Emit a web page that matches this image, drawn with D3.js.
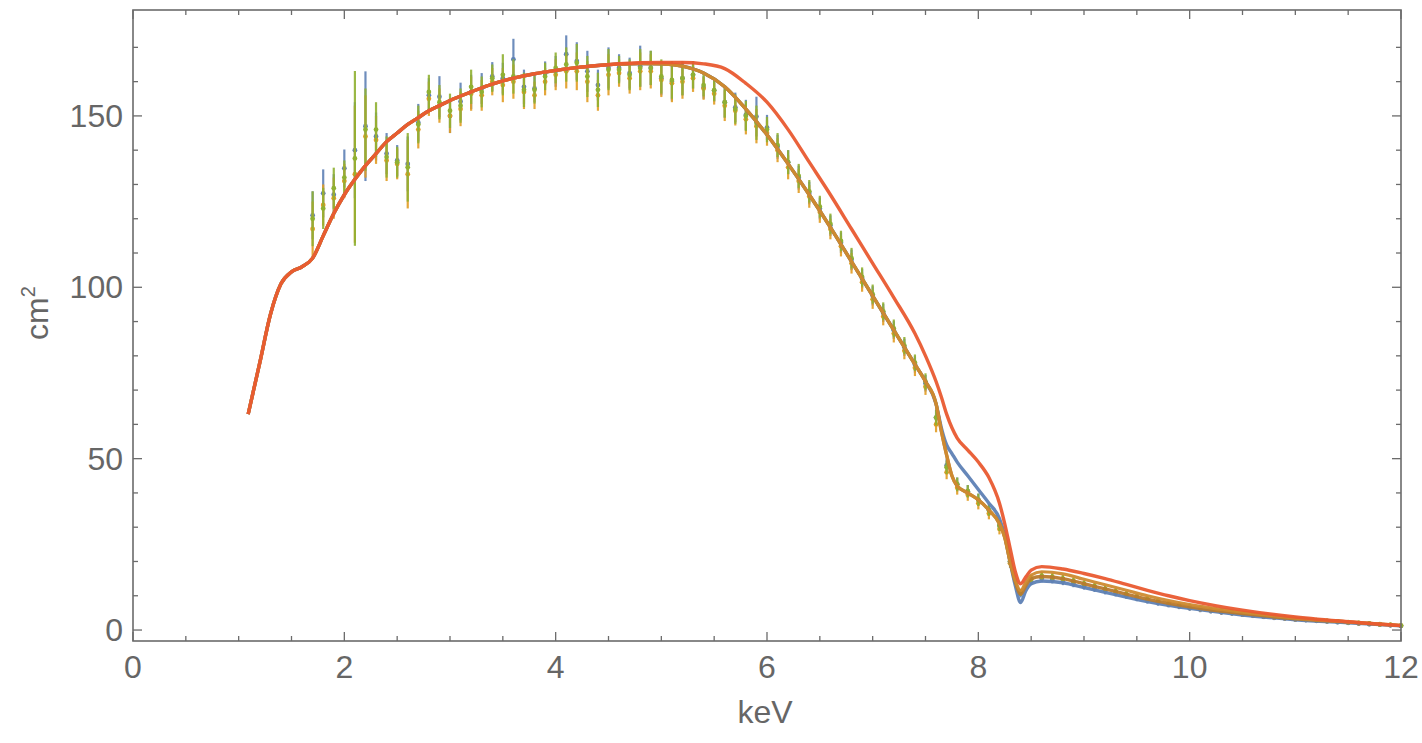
<!DOCTYPE html>
<html>
<head>
<meta charset="utf-8">
<script src="https://cdn.jsdelivr.net/npm/d3@7"></script>
<style>
  html, body { margin: 0; padding: 0; background: #fff; }
  svg { display: block; }
  text { font-family: "Liberation Sans", Arial, sans-serif; }
</style>
</head>
<body>
<svg id="chart" width="1422" height="743"></svg>
<script>
// ---------------- DATA ----------------
const energies = [1.7,1.8,1.9,2.0,2.1,2.2,2.3,2.4,2.5,2.6,2.7,2.8,2.9,3.0,3.1,3.2,3.3,3.4,3.5,3.6,3.7,3.8,3.9,4.0,4.1,4.2,4.3,4.4,4.5,4.6,4.7,4.8,4.9,5.0,5.1,5.2,5.3,5.4,5.5,5.6,5.7,5.8,5.9,6.0,6.1,6.2,6.3,6.4,6.5,6.6,6.7,6.8,6.9,7.0,7.1,7.2,7.3,7.4,7.5,7.6,7.7,7.8,7.9,8.0,8.1,8.2,8.3,8.4,8.5,8.6,8.7,8.8,8.9,9.0,9.1,9.2,9.3,9.4,9.5,9.6,9.7,9.8,9.9,10.0,10.1,10.2,10.3,10.4,10.5,10.6,10.7,10.8,10.9,11.0,11.1,11.2,11.3,11.4,11.5,11.6,11.7,11.8,11.9,12.0];

const dataBlue = [121,127.4,127,134.7,140,147,144,139,137,136,148,156,155.6,150,154.2,157,158,161.5,161,166.5,158.5,158,162.4,163,168,166,163,159,164,164,162.5,164.5,164,161,160,161,162,158.3,157.4,154,152.5,150.3,149.8,146.6,141,136.5,132,127.5,123,118,113,108,102.5,97.5,92.5,87.5,82.5,77.5,72,62,48,42.5,40.5,38,35,30.5,20,10.5,14.2,15,14.7,14.2,13.5,12.8,12.1,11.4,10.7,10,9.3,8.6,8,7.4,6.9,6.4,6,5.6,5.2,4.9,4.5,4.2,3.9,3.6,3.4,3.1,2.9,2.7,2.5,2.3,2.1,1.9,1.7,1.6,1.4,1.2];
const errBlue  = [7,7,6,5.5,14,16,7,6,4.5,8,5.5,5,6,5,5.5,5,4.5,4.2,4.5,6,5,4,3.5,4.5,5.5,5.5,6,4.5,6,4,4.5,6,5,5,5.5,5,4,3.3,3.2,4.5,4.3,4.4,5.8,3.7,3.5,3.5,3.5,3.3,3.2,3,3,3,2.8,2.8,2.6,2.6,2.5,2.4,2.4,2.3,2,2,1.8,1.8,1.7,1.6,1.4,1,1.1,1.1,1.1,1.1,1,1,1,1,0.9,0.9,0.9,0.9,0.9,0.8,0.8,0.8,0.8,0.8,0.8,0.7,0.7,0.7,0.7,0.7,0.7,0.7,0.6,0.6,0.6,0.6,0.6,0.6,0.6,0.6,0.6,0.6];

const dataOrange = [117,124,126,131,133,144,143,137,136,133,146,155,153,150,152,156.5,156,160,159,160,157,156,160,162,163,163,160,156,162,162.5,161,163,163,160.5,159.5,160,161,158,156.5,153,151.5,149,147,145,140,135,131,126.5,122,117,112,107,101.5,96.5,91.5,86.5,81.5,76.5,71,60,46,41.5,39.5,37,34,29.5,19.5,11,14.8,15.6,15.3,14.8,14.1,13.3,12.6,11.8,11.1,10.3,9.6,8.8,8.2,7.6,7.1,6.6,6.2,5.8,5.4,5,4.6,4.3,4,3.7,3.5,3.2,3,2.8,2.6,2.4,2.2,2,1.8,1.6,1.5,1.3];
const errOrange  = [8,6,6,5,20,12,7,6,4.5,10,5.5,5,5,5,5,5,4.5,4,5,5,5,4,4,4.5,5,5.5,6,4.5,6,4,4.5,5.5,5,5,5.5,5,4,3.3,3.2,4.5,4.3,4.4,5,3.7,3.5,3.5,3.5,3.3,3.2,3,3,3,2.8,2.8,2.6,2.6,2.5,2.4,2.4,2.3,2,2,1.8,1.8,1.7,1.6,1.4,1,1.1,1.1,1.1,1.1,1,1,1,1,0.9,0.9,0.9,0.9,0.9,0.8,0.8,0.8,0.8,0.8,0.8,0.7,0.7,0.7,0.7,0.7,0.7,0.7,0.6,0.6,0.6,0.6,0.6,0.6,0.6,0.6,0.6,0.6];

const dataGreen = [120,123,128.9,132,137.6,146,146,138,136.5,135,147.5,157,154,151.5,153,158.5,157,161,162,161.5,157.6,157.6,161.5,164,165,165.5,161.5,157.6,163.5,163.5,162,164,164,161.5,160.5,161,162,159,157.5,154,152,150,148,146,141.5,136.5,132.5,128,123.5,118.5,113.5,108.5,103,98,93,88,83,78,72.5,62,47.5,42.5,40.5,38,35,30.5,20,11,15,15.8,15.5,15,14.3,13.5,12.8,12,11.3,10.5,9.8,9,8.4,7.8,7.3,6.8,6.4,6,5.6,5.2,4.8,4.5,4.2,3.9,3.6,3.3,3.1,2.9,2.7,2.5,2.3,2.1,1.9,1.7,1.5,1.3];
const errGreen  = [8,6,6,5,25.5,12,8,6,4.5,10,5.5,5,5,5,5,5,4.5,4,6,5,5,4,4,4.5,5,5.5,6,5,6,4,4.5,5.5,5,5,5.5,5,4,3.3,3.2,4.5,4.3,4.4,5,3.7,3.5,3.5,3.5,3.3,3.2,3,3,3,2.8,2.8,2.6,2.6,2.5,2.4,2.4,2.3,2,2,1.8,1.8,1.7,1.6,1.4,1,1.1,1.1,1.1,1.1,1,1,1,1,0.9,0.9,0.9,0.9,0.9,0.8,0.8,0.8,0.8,0.8,0.8,0.7,0.7,0.7,0.7,0.7,0.7,0.7,0.6,0.6,0.6,0.6,0.6,0.6,0.6,0.6,0.6,0.6];

// model curves
const modelE = [1.09,1.2,1.3,1.4,1.5,1.6,1.7,1.8,1.9,2.0,2.1,2.2,2.3,2.4,2.5,2.6,2.7,2.8,2.9,3.0,3.2,3.4,3.6,3.8,4.0,4.2,4.4,4.6,4.8,5.0,5.2,5.4,5.6,5.8,6.0,6.2,6.4,6.6,6.8,7.0,7.2,7.4,7.5,7.6,7.65,7.7,7.75,7.8,7.9,8.0,8.1,8.2,8.25,8.3,8.35,8.4,8.45,8.5,8.6,8.8,9.0,9.2,9.4,9.6,9.8,10.0,10.5,11.0,11.5,12.0];
const modelGreen  = [63,78,92,101,104.5,106,108.5,115,121.5,127,131.5,135.5,139,142.5,145,147.5,149.5,151.5,153,154.5,157,159.3,161,162.3,163.3,164.1,164.7,165.1,165.3,165.2,164.5,162.5,158.5,152,144.5,136,127,117.5,107.5,97.5,87.5,77.5,72.5,66,58,51,45,42,40,38,35,31,27,20,14,10.5,13,15,15.6,15,13.5,12,10.5,9,7.8,6.8,4.8,3.3,2.3,1.3];
const modelOrange = [63,78,92,101,104.5,106,108.5,115,121.5,127,131.5,135.5,139,142.5,145,147.5,149.5,151.5,153,154.5,157,159.3,161,162.3,163.3,164.1,164.7,165.1,165.3,165.2,164.5,162.5,158.5,152,144.5,136,127,117.5,107.5,97.5,87.5,77.5,72.5,66,58,51,45,42,40,38,35,31,27,20,14.5,11.5,14,16,17,16.4,14.8,13.2,11.6,10,8.6,7.4,5.2,3.5,2.4,1.4];
const modelBlue   = [63,78,92,101,104.5,106,108.5,115,121.5,127,131.5,135.5,139,142.5,145,147.5,149.5,151.5,153,154.5,157,159.3,161,162.3,163.3,164.1,164.7,165.1,165.3,165.2,164.5,162.5,158.5,152,144.5,136,127,117.5,107.5,97.5,87.5,77.5,72.5,66,59,54,51.5,49,45,41,37,32.5,27.5,20,13,8,11.5,13.5,14.3,13.8,12.4,11,9.6,8.3,7.2,6.3,4.4,3,2.1,1.2];
const modelRed    = [63,78,92,101,104.5,106,108.5,115,121.5,127,131.5,135.5,139,142.5,145,147.5,149.5,151.5,153,154.5,157,159.3,161,162.3,163.3,164.1,164.7,165.2,165.5,165.6,165.6,165.2,163.8,159.5,154,146,136.5,127,117,107,97,86.5,80,72.5,68,63,59,56,52.5,49,44.5,37,31,24,17,13.5,15.5,17.5,18.5,17.8,16.5,15,13.3,11.6,10,8.6,5.8,3.8,2.4,1.3];

const xTicks = [0,2,4,6,8,10,12];
const yTicks = [0,50,100,150];
const xLabel = "keV";
const yLabel = "cm";

// ---------------- CHART ----------------
const svg = d3.select("#chart");
const L = 133, R = 1401, T = 10, B = 641;
const x = d3.scaleLinear().domain([0, 12]).range([L, R]);
const y = d3.scaleLinear().domain([-3.2, 180.9]).range([B, T]);

const colors = { blue: "#5E81B5", orange: "#E19C24", green: "#8FB032", red: "#E95A30" };
const axisGray = "#6b6b6b";
const textGray = "#666666";

// Error bars
const series = [
  { vals: dataBlue, errs: errBlue, color: colors.blue },
  { vals: dataOrange, errs: errOrange, color: colors.orange },
  { vals: dataGreen, errs: errGreen, color: colors.green }
];
const gData = svg.append("g");
series.forEach(s => {
  const g = gData.append("g");
  g.selectAll("line").data(energies).enter().append("line")
    .attr("x1", d => x(d)).attr("x2", d => x(d))
    .attr("y1", (d, i) => y(s.vals[i] + s.errs[i]))
    .attr("y2", (d, i) => y(s.vals[i] - s.errs[i]))
    .attr("stroke", s.color).attr("stroke-width", 2.2).attr("stroke-opacity", 0.9);
  g.selectAll("circle").data(energies).enter().append("circle")
    .attr("cx", d => x(d)).attr("cy", (d, i) => y(s.vals[i]))
    .attr("r", 2.4).attr("fill", s.color);
});

// Model curves
const line = d3.line().x((d, i) => x(modelE[i])).y(d => y(d)).curve(d3.curveMonotoneX);
[[modelBlue, colors.blue, 3.4], [modelGreen, "#b87a2e", 3.4], [modelOrange, "#cf8a30", 3.2], [modelRed, colors.red, 3.4]].forEach(([vals, c, w]) => {
  svg.append("path").datum(vals)
    .attr("d", line)
    .attr("fill", "none")
    .attr("stroke", c)
    .attr("stroke-width", w)
    .attr("stroke-linejoin", "round")
    .attr("stroke-opacity", 0.95);
});

// Frame
const frame = svg.append("g");
frame.append("rect").attr("x", L).attr("y", T).attr("width", R - L).attr("height", B - T)
  .attr("fill", "none").attr("stroke", axisGray).attr("stroke-width", 1.6);

// Ticks (inward) on all four sides
const xMinor = d3.range(0, 12.001, 0.5);
const yMinor = d3.range(0, 180, 10);
const tickG = frame.append("g").attr("stroke", axisGray);
xMinor.forEach(v => {
  const major = xTicks.includes(v);
  const len = major ? 9 : 5;
  tickG.append("line").attr("x1", x(v)).attr("x2", x(v)).attr("y1", B).attr("y2", B - len).attr("stroke-width", 1.3);
  tickG.append("line").attr("x1", x(v)).attr("x2", x(v)).attr("y1", T).attr("y2", T + len).attr("stroke-width", 1.3);
});
yMinor.forEach(v => {
  const major = yTicks.includes(v);
  const len = major ? 9 : 5;
  tickG.append("line").attr("x1", L).attr("x2", L + len).attr("y1", y(v)).attr("y2", y(v)).attr("stroke-width", 1.3);
  tickG.append("line").attr("x1", R).attr("x2", R - len).attr("y1", y(v)).attr("y2", y(v)).attr("stroke-width", 1.3);
});

// Tick labels
frame.selectAll(".xl").data(xTicks).enter().append("text")
  .attr("x", d => x(d)).attr("y", 678)
  .attr("text-anchor", "middle").attr("fill", textGray).attr("font-size", 32)
  .text(d => d);
frame.selectAll(".yl").data(yTicks).enter().append("text")
  .attr("x", L - 10).attr("y", d => y(d) + 11)
  .attr("text-anchor", "end").attr("fill", textGray).attr("font-size", 32)
  .text(d => d);

// Axis labels
svg.append("text").attr("x", 765).attr("y", 723).attr("text-anchor", "middle")
  .attr("fill", textGray).attr("font-size", 32).text(xLabel);
const yl = svg.append("text").attr("transform", "translate(48,313) rotate(-90)")
  .attr("text-anchor", "middle").attr("fill", textGray).attr("font-size", 32);
yl.append("tspan").text(yLabel);
yl.append("tspan").attr("font-size", 20).attr("dy", -13).text("2");
</script>
</body>
</html>
